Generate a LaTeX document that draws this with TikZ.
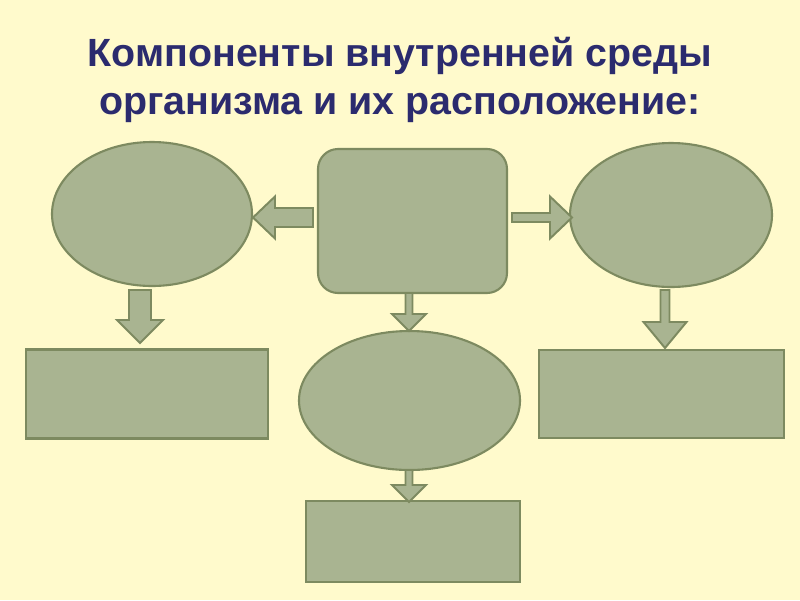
\documentclass[tikz,border=0pt]{standalone}
\usepackage{fontspec}
\setmainfont{Liberation Sans}
\usetikzlibrary{shapes.geometric,calc}
\definecolor{bgYellow}{HTML}{FFFACC}
\definecolor{sageFill}{HTML}{A9B491}
\definecolor{sageLine}{HTML}{7D8A60}
\definecolor{titleBlue}{HTML}{2B2B6E}
\def\px{0.025cm}
\newcommand{\blockarrow}[5]{% tail, tip, shaft half width, head half width, head length
  \path ($(#2)!#5*\px!(#1)$) coordinate (hb);
  \draw[arrowbox] ($(#1)!#3*\px!90:(#2)$) -- ($(hb)!#3*\px!90:(#2)$)
    -- ($(hb)!#4*\px!90:(#2)$) -- (#2) -- ($(hb)!#4*\px!-90:(#2)$)
    -- ($(hb)!#3*\px!-90:(#2)$) -- ($(#1)!#3*\px!-90:(#2)$) -- cycle;
}

\begin{document}
\begin{tikzpicture}[x=0.025cm,y=-0.025cm]
    \tikzstyle{shapebox}=[draw=sageLine, fill=sageFill, line width=1.5pt, inner sep=0pt]
    \tikzstyle{ovalbox}=[shapebox, ellipse]
    \tikzstyle{rectbox}=[shapebox, rectangle]
    \tikzstyle{arrowbox}=[draw=sageLine, fill=sageFill, line width=1.4pt, line join=miter]
    \tikzstyle{titletext}=[text=titleBlue, font=\fontsize{28}{34}\selectfont\bfseries, anchor=base]

    \fill[bgYellow] (0,0) rectangle (800,600);
    \useasboundingbox (0,0) rectangle (800,600);

    \node[titletext] (title1) at (400,66) {Компоненты внутренней среды};
    \node[titletext] (title2) at (400,114) {организма и их расположение:};

    % top row
    \node[ovalbox, minimum width=200*\px, minimum height=144*\px] (ovL) at (152,214) {};
    \node[rectbox, rounded corners=20*\px, minimum width=189*\px, minimum height=144*\px] (main) at (412.5,221) {};
    \node[ovalbox, minimum width=202*\px, minimum height=144*\px] (ovR) at (671,215) {};

    % lower row
    \node[rectbox, minimum width=242*\px, minimum height=89*\px] (recL) at (147,394) {};
    \node[ovalbox, minimum width=221*\px, minimum height=139*\px] (ovC) at (409.5,400.5) {};
    \node[rectbox, minimum width=245*\px, minimum height=88*\px] (recR) at (661.5,394) {};
    \node[rectbox, minimum width=214*\px, minimum height=81*\px] (recB) at (413,541.5) {};

    % arrow ends
    \coordinate (aLt) at (313,217.5);  \coordinate (aLh) at (253,217.5);
    \coordinate (aRt) at (512,217.5);  \coordinate (aRh) at (572,217.5);
    \coordinate (dLt) at (140,290);    \coordinate (dLh) at (140,343);
    \coordinate (dCt) at (409,293);    \coordinate (dCh) at (409,331);
    \coordinate (dRt) at (665,290);    \coordinate (dRh) at (665,348);
    \coordinate (dBt) at (409,470);    \coordinate (dBh) at (409,502);

    \blockarrow{aLt}{aLh}{9.5}{21}{22}
    \blockarrow{aRt}{aRh}{4.5}{21}{22}
    \blockarrow{dLt}{dLh}{11}{23}{23}
    \blockarrow{dCt}{dCh}{3.5}{17}{17}
    \blockarrow{dRt}{dRh}{4.5}{21.5}{26}
    \blockarrow{dBt}{dBh}{3.5}{17}{17}
\end{tikzpicture}
\end{document}
